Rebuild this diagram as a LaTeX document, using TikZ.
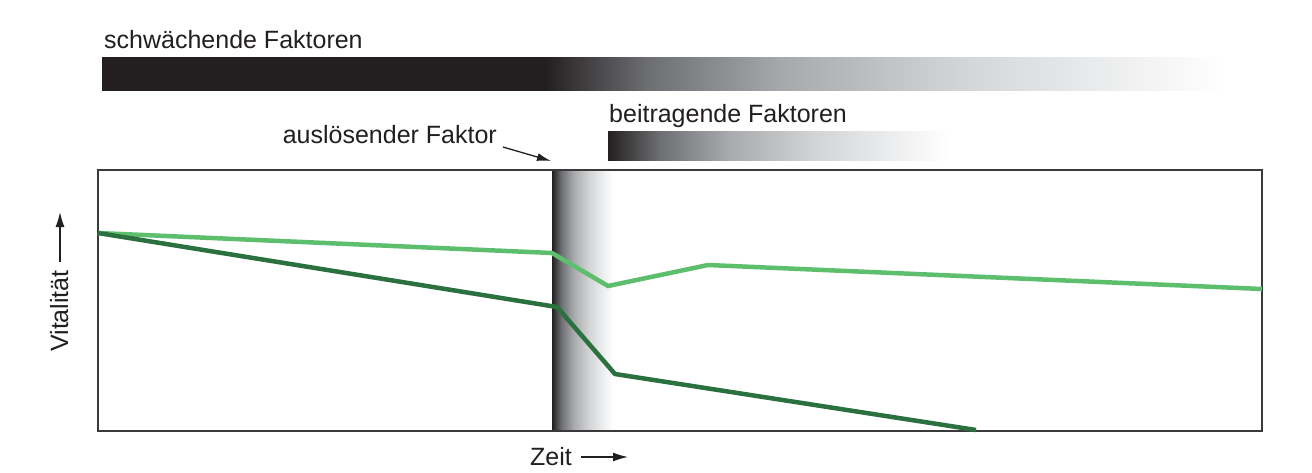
\documentclass[tikz,border=0pt]{standalone}
\usepackage{fontspec}
\setmainfont{Liberation Sans}
\usetikzlibrary{arrows.meta}
\definecolor{barblack}{HTML}{231F20}
\definecolor{gA}{HTML}{6D6E71}
\definecolor{gB}{HTML}{A7A9AC}
\definecolor{gC}{HTML}{D1D3D4}
\definecolor{gD}{HTML}{E9EAEB}
\definecolor{lightgreen}{HTML}{5DBF6E}
\definecolor{darkgreen}{HTML}{2B7140}
\definecolor{framegray}{HTML}{3A3A3A}
% fade from black (left) to white (right); the path spans 25bp..75bp
\pgfdeclarehorizontalshading{fade}{100bp}{color(0bp)=(barblack); color(25bp)=(barblack);
  color(32.5bp)=(gA); color(42.5bp)=(gB); color(55bp)=(gC); color(65bp)=(gD);
  color(75bp)=(white); color(100bp)=(white)}
% solid black for the first 39.4 percent, then the same fade
\pgfdeclarehorizontalshading{weak}{100bp}{color(0bp)=(barblack); color(44.7bp)=(barblack);
  color(49.25bp)=(gA); color(55.3bp)=(gB); color(62.9bp)=(gC); color(68.9bp)=(gD);
  color(75bp)=(white); color(100bp)=(white)}
\tikzset{
  lbl/.style={inner sep=0pt, font=\fontsize{25}{30}\selectfont, text=barblack},
  pointer/.style={draw=barblack, line width=1.3pt, -{Latex[length=15pt,width=9pt]}},
  curve/.style={line width=4.5pt, line join=miter},
}
\begin{document}
\begin{tikzpicture}[x=1pt,y=-1pt]
\useasboundingbox (0,0) rectangle (1312,472);
\fill[white] (0,0) rectangle (1312,472);
% top bar: weakening factors
\node[lbl, anchor=base west] (schw) at (104,48) {schwächende Faktoren};
\shade[shading=weak] (102,57) rectangle (1226,90);
% contributing factors
\node[lbl, anchor=base west] (beit) at (609,122) {beitragende Faktoren};
\shade[shading=fade] (608,131) rectangle (950,160);
% triggering factor
\node[lbl, anchor=base east] (ausl) at (497,143) {auslösender Faktor};
\coordinate (auslTip) at (551,161);
\draw[pointer, -{Latex[length=14pt,width=8pt]}] ([xshift=6pt,yshift=-4pt]ausl.base east) -- (auslTip);
% band
\shade[shading=fade] (552,170) rectangle (613,431);
% frame
\draw[framegray, line width=1.5pt] (98,170) rectangle (1262,431);
% curves
\draw[curve, lightgreen] (98,233) -- (552,253) -- (608,286) -- (708,265) -- (1262,289);
\draw[curve, darkgreen] (98,233) -- (557,307) -- (615,374) -- (976,430);
% axis labels
\node[lbl, anchor=base, rotate=90] (vital) at (68,311) {Vitalität};
\coordinate (vitalTip) at (60,212);
\draw[pointer] (60,262) -- (vitalTip);
\node[lbl, anchor=base west] (zeit) at (530,465) {Zeit};
\coordinate (zeitTip) at (628,457);
\draw[pointer] (581,457) -- (zeitTip);
\end{tikzpicture}
\end{document}
